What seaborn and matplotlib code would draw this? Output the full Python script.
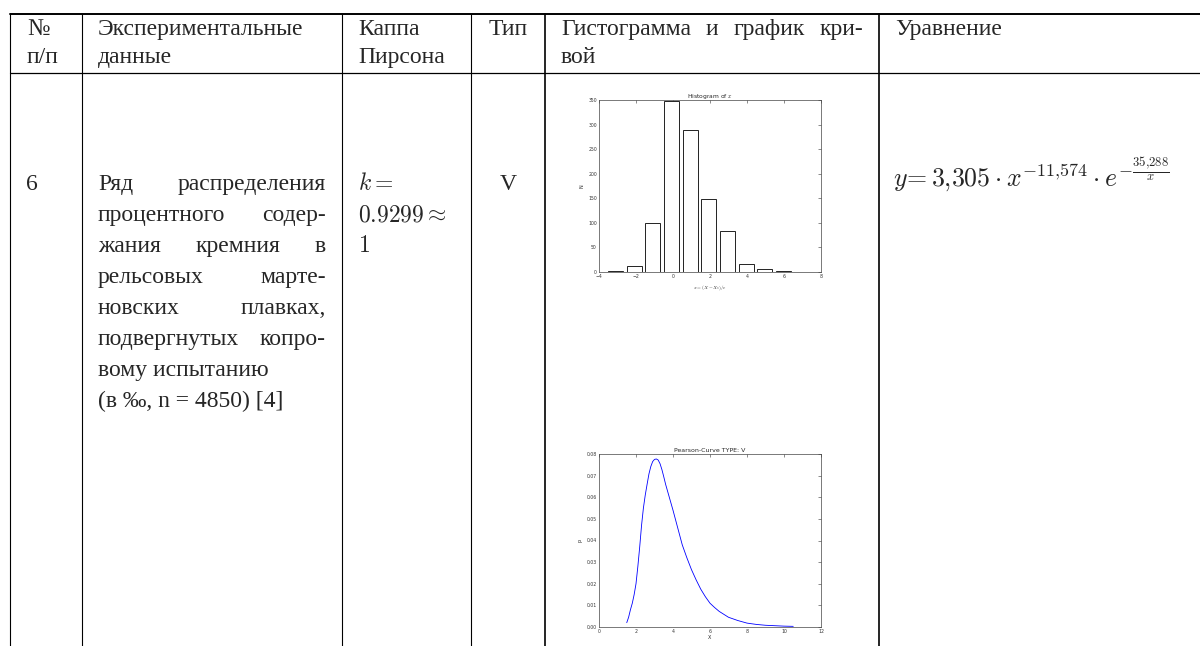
import matplotlib
matplotlib.use('Agg')
import matplotlib.pyplot as plt
import seaborn as sns

# ---------------------------------------------------------------
# data
# ---------------------------------------------------------------
hist_centers = [-3.11, -2.10, -1.09, -0.08, 0.93, 1.94, 2.95, 3.96, 4.97, 5.98]
hist_counts = [3, 12, 100, 347, 289, 148, 84, 16, 6, 2]
hist_xticks = [-4, -2, 0, 2, 4, 6, 8]
hist_yticks = [0, 50, 100, 150, 200, 250, 300, 350]

curve_x = [1.5, 1.6, 1.7, 1.8, 1.9, 2.0, 2.1, 2.2, 2.3, 2.4, 2.5, 2.6, 2.7, 2.8,
           2.9, 3.0, 3.1, 3.2, 3.3, 3.4, 3.5, 3.6, 3.8, 4.0, 4.25, 4.5, 4.75,
           5.0, 5.25, 5.5, 5.75, 6.0, 6.25, 6.5, 7.0, 7.5, 8.0, 8.5, 9.0, 9.5,
           10.0, 10.5]
curve_y = [0.002, 0.0045, 0.008, 0.011, 0.015, 0.020, 0.028, 0.037, 0.047, 0.055,
           0.061, 0.066, 0.0708, 0.0742, 0.0765, 0.0775, 0.0777, 0.0772, 0.0755,
           0.0728, 0.0695, 0.066, 0.060, 0.054, 0.046, 0.038, 0.032,
           0.0265, 0.0218, 0.0175, 0.014, 0.011, 0.0090, 0.0072, 0.0045, 0.003,
           0.0018, 0.0012, 0.0008, 0.0006, 0.0004, 0.0003]
curve_xticks = [0, 2, 4, 6, 8, 10, 12]
curve_yticks = [0.00, 0.01, 0.02, 0.03, 0.04, 0.05, 0.06, 0.07, 0.08]

# table texts
head_num = ["№", "п/п"]
head_data = ["Экспериментальные", "данные"]
head_kappa = ["Каппа", "Пирсона"]
head_type = "Тип"
head_hist = [["Гистограмма", "и", "график", "кри-"], ["вой"]]
head_eq = "Уравнение"

row_num = "6"
row_desc = [["Ряд", "распределения"],
            ["процентного", "содер-"],
            ["жания", "кремния", "в"],
            ["рельсовых", "марте-"],
            ["новских", "плавках,"],
            ["подвергнутых", "копро-"],
            ["вому испытанию"],
            ["(в ‰, n = 4850) [4]"]]
row_kappa = [r"$k=$", r"$0.9299\approx$", r"$1$"]
row_type = "V"
row_eq = r"$y\!=3{,}305\cdot x^{-11{,}574}\cdot e^{-\frac{35{,}288}{x}}$"

# ---------------------------------------------------------------
# layout (pixels of a 1200 x 646 canvas)
# ---------------------------------------------------------------
W, H = 1200, 646
col_lines = [10, 82, 342, 471, 545, 879]
top_y, head_y = 14, 73
pad = 16
head_base = [35, 63]
body_base0, body_step = 190, 31
fs = 17

sns.set_style("white")
plt.rcParams['font.family'] = ['Liberation Serif', 'DejaVu Serif']
plt.rcParams['mathtext.fontset'] = 'cm'

fig = plt.figure(figsize=(W / 100, H / 100), dpi=100)
bg = fig.add_axes([0, 0, 1, 1])
bg.set_xlim(0, W)
bg.set_ylim(H, 0)
bg.axis('off')

# table rules
bg.plot([col_lines[0], W], [top_y, top_y], color='black', lw=1.4)
bg.plot([col_lines[0], W], [head_y, head_y], color='black', lw=0.9)
for i, x in enumerate(col_lines):
    bg.plot([x, x], [top_y, H], color='black', lw=1.2 if i >= 4 else 0.8)

renderer = fig.canvas.get_renderer()


def put_line(words, x0, x1, y, justify=True):
    texts = [bg.text(0, y, w, fontsize=fs, va='baseline', ha='left') for w in words]
    widths = [t.get_window_extent(renderer).width for t in texts]
    if justify and len(words) > 1:
        gap = (x1 - x0 - sum(widths)) / (len(words) - 1)
    else:
        gap = 0.25 * fs
    x = x0
    for t, w in zip(texts, widths):
        t.set_x(x)
        x += w + gap


# header
for k, y in enumerate(head_base):
    bg.text(col_lines[0] + pad + 1, y, head_num[k], fontsize=fs, va='baseline')
    bg.text(col_lines[1] + pad, y, head_data[k], fontsize=fs, va='baseline')
    bg.text(col_lines[2] + pad, y, head_kappa[k], fontsize=fs, va='baseline')
bg.text((col_lines[3] + col_lines[4]) / 2, head_base[0], head_type, fontsize=fs,
        va='baseline', ha='center')
put_line(head_hist[0], col_lines[4] + pad, col_lines[5] - pad, head_base[0])
put_line(head_hist[1], col_lines[4] + pad, col_lines[5] - pad, head_base[1], justify=False)
bg.text(col_lines[5] + pad, head_base[0], head_eq, fontsize=fs, va='baseline')

# body row
bg.text(col_lines[0] + pad, body_base0, row_num, fontsize=fs, va='baseline')
for i, words in enumerate(row_desc):
    put_line(words, col_lines[1] + pad, col_lines[2] - pad,
             body_base0 + i * body_step, justify=(i < 6))
for i, s in enumerate(row_kappa):
    bg.text(col_lines[2] + pad, body_base0 + i * body_step, s, fontsize=fs, va='baseline')
bg.text((col_lines[3] + col_lines[4]) / 2, body_base0, row_type, fontsize=fs,
        va='baseline', ha='center')
bg.text(col_lines[5] + 14, body_base0 - 4, row_eq, fontsize=18.6, va='baseline')


def classic_axes(ax, xticks, yticks, xlim, ylim, fmt):
    ax.set_xlim(*xlim)
    ax.set_ylim(*ylim)
    ax.set_xticks(xticks)
    ax.set_yticks(yticks)
    ax.set_xticklabels([fmt[0].format(v).replace('-', '\u2212') for v in xticks],
                       family='DejaVu Sans')
    ax.set_yticklabels([fmt[1].format(v) for v in yticks], family='DejaVu Sans')
    ax.tick_params(direction='in', top=True, right=True, length=2, width=0.4,
                   labelsize=3.3, pad=1.5, colors='#333333')
    for sp in ax.spines.values():
        sp.set_visible(True)
        sp.set_color('#444444')
        sp.set_linewidth(0.5)
    ax.set_facecolor('white')


# histogram
ax_h = fig.add_axes([599 / W, 1 - 272 / H, 222 / W, 172 / H])
sns.barplot(x=hist_centers, y=hist_counts, native_scale=True, width=0.8,
            color='white', edgecolor='#222222', linewidth=0.7, errorbar=None, ax=ax_h)
classic_axes(ax_h, hist_xticks, hist_yticks, (-4, 8), (0, 350), ("{:d}", "{:d}"))
ax_h.set_title(r"Histogram of $x$", fontsize=4.3, family='DejaVu Sans', pad=1.5)
ax_h.set_ylabel("N", fontsize=3.5, family='DejaVu Sans', labelpad=3)
ax_h.set_xlabel(r"$x=(X-X_s)/c$", fontsize=3.5, labelpad=3)

# Pearson curve
ax_c = fig.add_axes([599 / W, 1 - 627 / H, 222 / W, 173 / H])
sns.lineplot(x=curve_x, y=curve_y, color='blue', linewidth=0.6, ax=ax_c)
classic_axes(ax_c, curve_xticks, curve_yticks, (0, 12), (0, 0.08), ("{:d}", "{:.2f}"))
ax_c.set_title("Pearson-Curve TYPE: V", fontsize=4.5, family='DejaVu Sans', pad=1.5)
ax_c.set_ylabel("p", fontsize=3.5, family='DejaVu Sans', labelpad=3)
ax_c.set_xlabel("X", fontsize=3.5, family='DejaVu Sans', labelpad=1)

fig.savefig("out.png", dpi=100)
